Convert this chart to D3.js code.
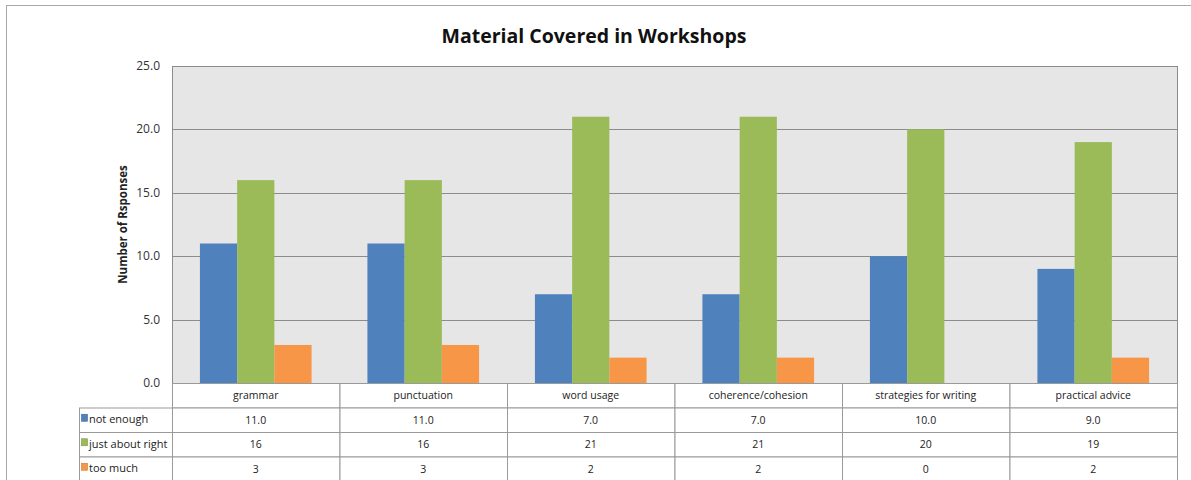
<!DOCTYPE html>
<html>
<head>
<meta charset="utf-8">
<script src="https://cdn.jsdelivr.net/npm/d3@7"></script>
<style>
  body { margin: 0; background: #fff; }
  svg { display: block; font-family: "Open Sans", "Noto Sans", sans-serif; }
  .title { font-size: 19.5px; font-weight: bold; fill: #111; }
  .tick-label { font-size: 12px; fill: #333; }
  .cell { font-size: 10.5px; fill: #222; }
  .legend-label { font-size: 11px; fill: #222; }
</style>
</head>
<body>
<svg id="chart" width="1191" height="480"></svg>
<script>
const svg = d3.select("#chart");

const categories = ["grammar", "punctuation", "word usage", "coherence/cohesion", "strategies for writing", "practical advice"];
const seriesNames = ["not enough", "just about right", "too much"];
const notEnough = [11, 11, 7, 7, 10, 9];
const justAboutRight = [16, 16, 21, 21, 20, 19];
const tooMuch = [3, 3, 2, 2, 0, 2];
const yTicks = [0, 5, 10, 15, 20, 25];

const seriesValues = [notEnough, justAboutRight, tooMuch];
const seriesFormat = [d3.format(".1f"), d3.format("d"), d3.format("d")];
const colors = ["#4f81bd", "#9bbb59", "#f79646"];

const plot = { left: 172, right: 1177, top: 66, bottom: 383 };
const rowH = 24.5;
const legendLeft = 79;
const gridColor = "#8c8c8c";
const tableColor = "#9a9a9a";

// outer frame
svg.append("rect")
  .attr("x", 6.5).attr("y", 5.5)
  .attr("width", 1200).attr("height", 500)
  .attr("fill", "none").attr("stroke", "#a8a8a8");

svg.append("text")
  .attr("class", "title")
  .attr("x", 594)
  .attr("y", 43)
  .attr("text-anchor", "middle")
  .text("Material Covered in Workshops");

const x0 = d3.scaleBand()
  .domain(categories)
  .range([plot.left, plot.right])
  .paddingInner(0).paddingOuter(0);

const x1 = d3.scaleBand()
  .domain(seriesNames)
  .range([0, x0.bandwidth()])
  .paddingInner(0).paddingOuter(0.75);

const y = d3.scaleLinear()
  .domain([0, 25])
  .range([plot.bottom, plot.top]);

// plot background
svg.append("rect")
  .attr("x", plot.left).attr("y", plot.top)
  .attr("width", plot.right - plot.left)
  .attr("height", plot.bottom - plot.top)
  .attr("fill", "#e6e6e6");

// gridlines
svg.append("g")
  .selectAll("line")
  .data(yTicks)
  .join("line")
  .attr("x1", plot.left).attr("x2", plot.right)
  .attr("y1", d => Math.round(y(d)) + 0.5)
  .attr("y2", d => Math.round(y(d)) + 0.5)
  .attr("stroke", gridColor);

svg.append("line")
  .attr("x1", plot.left + 0.5).attr("x2", plot.left + 0.5)
  .attr("y1", plot.top).attr("y2", plot.bottom)
  .attr("stroke", gridColor);
svg.append("line")
  .attr("x1", plot.right + 0.5).attr("x2", plot.right + 0.5)
  .attr("y1", plot.top).attr("y2", plot.bottom)
  .attr("stroke", gridColor);

// tick labels
svg.append("g")
  .selectAll("text")
  .data(yTicks)
  .join("text")
  .attr("class", "tick-label")
  .attr("x", 160)
  .attr("y", d => y(d) + 4)
  .attr("text-anchor", "end")
  .text(d => d3.format(".1f")(d));

svg.append("text")
  .attr("transform", `translate(127, ${(plot.top + plot.bottom) / 2}) rotate(-90)`)
  .attr("text-anchor", "middle")
  .style("font-size", "11.5px")
  .style("font-weight", "bold")
  .attr("fill", "#222")
  .text("Number of Rsponses");

// bars
const bars = [];
categories.forEach((c, i) => {
  seriesNames.forEach((s, j) => {
    bars.push({ category: c, series: s, value: seriesValues[j][i], color: colors[j] });
  });
});

svg.append("g")
  .selectAll("rect")
  .data(bars.filter(d => d.value > 0))
  .join("rect")
  .attr("x", d => x0(d.category) + x1(d.series))
  .attr("y", d => y(d.value))
  .attr("width", x1.bandwidth())
  .attr("height", d => y(0) - y(d.value))
  .attr("fill", d => d.color);

// data table
const table = svg.append("g");
const rowTop = i => plot.bottom + rowH * i;

// header row cells
categories.forEach(c => {
  table.append("rect")
    .attr("x", x0(c) + 0.5).attr("y", plot.bottom + 0.5)
    .attr("width", x0.bandwidth()).attr("height", rowH)
    .attr("fill", "#fff").attr("stroke", tableColor);
  table.append("text")
    .attr("class", "cell")
    .attr("x", x0(c) + x0.bandwidth() / 2)
    .attr("y", plot.bottom + rowH / 2 + 4)
    .attr("text-anchor", "middle")
    .text(c);
});

seriesNames.forEach((s, j) => {
  const top = rowTop(j + 1);
  table.append("rect")
    .attr("x", legendLeft + 0.5).attr("y", top + 0.5)
    .attr("width", plot.left - legendLeft).attr("height", rowH)
    .attr("fill", "#fff").attr("stroke", tableColor);
  table.append("rect")
    .attr("x", legendLeft + 2.5).attr("y", top + rowH / 2 - 5.5)
    .attr("width", 6).attr("height", 7)
    .attr("fill", colors[j])
    .attr("stroke", d3.color(colors[j]).darker(0.6))
    .attr("stroke-width", 0.6);
  table.append("text")
    .attr("class", "legend-label")
    .attr("x", legendLeft + 10)
    .attr("y", top + rowH / 2 + 3.5)
    .text(s);
  categories.forEach((c, i) => {
    table.append("rect")
      .attr("x", x0(c) + 0.5).attr("y", top + 0.5)
      .attr("width", x0.bandwidth()).attr("height", rowH)
      .attr("fill", "#fff").attr("stroke", tableColor);
    table.append("text")
      .attr("class", "cell")
      .attr("x", x0(c) + x0.bandwidth() / 2)
      .attr("y", top + rowH / 2 + 4)
      .attr("text-anchor", "middle")
      .text(seriesFormat[j](seriesValues[j][i]));
  });
});
</script>
</body>
</html>
